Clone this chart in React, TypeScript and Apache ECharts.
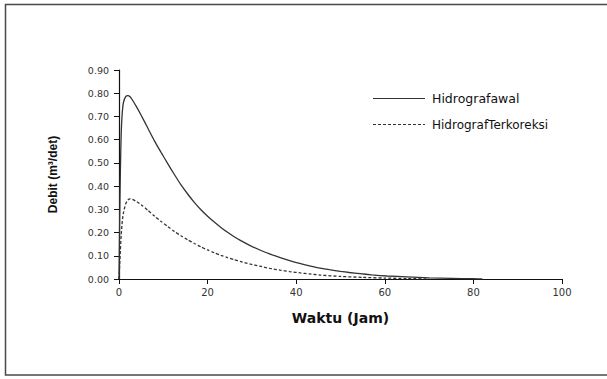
import React, { useEffect, useRef } from "react";
import * as echarts from "echarts";

const xTicks = [0, 20, 40, 60, 80, 100];
const seriesNames = ["Hidrografawal", "HidrografTerkoreksi"];

const tAwal = [0, 0.15, 0.3, 0.5, 0.75, 1, 1.5, 2, 2.5, 3, 4, 5, 6.5, 8, 9.5, 11, 12.5, 14, 15.5, 17, 18.5, 20, 21.5, 23, 24.5, 26, 27.5, 29.5, 31.8, 34, 36.4, 38.5, 41, 43, 45.4, 47.5, 50, 52, 54.4, 57, 60.5, 65, 70, 75, 80, 82];
const qAwal = [0, 0.25, 0.45, 0.63, 0.72, 0.76, 0.785, 0.79, 0.785, 0.772, 0.74, 0.705, 0.65, 0.595, 0.545, 0.497, 0.45, 0.405, 0.366, 0.33, 0.298, 0.27, 0.245, 0.222, 0.201, 0.182, 0.165, 0.145, 0.125, 0.108, 0.092, 0.079, 0.066, 0.057, 0.047, 0.04, 0.033, 0.028, 0.023, 0.018, 0.013, 0.009, 0.005, 0.003, 0.001, 0];

const tKoreksi = [0, 0.15, 0.3, 0.5, 0.75, 1, 1.5, 2, 2.5, 3, 4, 5, 6.5, 8, 9.5, 11, 12.5, 14, 15.5, 17, 18.5, 20, 21.5, 23, 24.5, 26, 27.5, 29.5, 31.8, 34, 36.4, 38.5, 41, 43, 45.4, 50, 55, 60, 65, 70];
const qKoreksi = [0, 0.06, 0.12, 0.19, 0.25, 0.285, 0.323, 0.34, 0.345, 0.343, 0.333, 0.32, 0.296, 0.271, 0.248, 0.226, 0.205, 0.186, 0.169, 0.153, 0.138, 0.125, 0.113, 0.102, 0.092, 0.083, 0.075, 0.065, 0.055, 0.046, 0.038, 0.032, 0.026, 0.022, 0.017, 0.011, 0.007, 0.004, 0.002, 0];

const toPairs = (xs: number[], ys: number[]) => xs.map((x, i) => [x, ys[i]]);

export default function App() {
  const ref = useRef<HTMLDivElement>(null);
  useEffect(() => {
    if (!ref.current) return;
    const chart = echarts.init(ref.current, null, { renderer: "svg" });
    const font = "Liberation Sans, Arial, sans-serif";
    const wide = "DejaVu Sans, sans-serif";
    chart.setOption({
      animation: false,
      backgroundColor: "#ffffff",
      textStyle: { fontFamily: font },
      grid: { left: 119, top: 70, width: 443, height: 209, containLabel: false },
      graphic: [
        {
          type: "rect",
          shape: { x: 5.5, y: 4.5, width: 640, height: 370.5 },
          style: { fill: "none", stroke: "#4a4a4a", lineWidth: 1.5 },
          silent: true,
        },
        {
          type: "line",
          shape: { x1: 373, y1: 98.5, x2: 425, y2: 98.5 },
          style: { stroke: "#333", lineWidth: 1.2 },
          silent: true,
        },
        {
          type: "text",
          x: 432,
          y: 98.5,
          style: { text: seriesNames[0], fill: "#111", font: `12.5px ${wide}`, textVerticalAlign: "middle", verticalAlign: "middle" },
          silent: true,
        },
        {
          type: "line",
          shape: { x1: 373, y1: 124.5, x2: 425, y2: 124.5 },
          style: { stroke: "#333", lineWidth: 1.2, lineDash: [3, 2] },
          silent: true,
        },
        {
          type: "text",
          x: 432,
          y: 124.5,
          style: { text: seriesNames[1], fill: "#111", font: `12px ${wide}`, textVerticalAlign: "middle", verticalAlign: "middle" },
          silent: true,
        },
      ],
      xAxis: {
        type: "value",
        min: 0,
        max: 100,
        interval: 20,
        name: "Waktu (Jam)",
        nameLocation: "middle",
        nameGap: 32,
        nameTextStyle: { fontFamily: wide, fontSize: 14, fontWeight: "bold", color: "#111" },
        axisLine: { lineStyle: { color: "#111", width: 1.2 } },
        axisTick: { show: true, length: 5, lineStyle: { color: "#111" } },
        axisLabel: { fontFamily: wide, fontSize: 10, color: "#333", margin: 8, formatter: (v: number) => (xTicks.includes(v) ? String(v) : "") },
        splitLine: { show: false },
      },
      yAxis: {
        type: "value",
        min: 0,
        max: 0.9,
        interval: 0.1,
        name: "Debit (m³/det)",
        nameLocation: "middle",
        nameRotate: 90,
        nameGap: 60,
        nameTextStyle: { fontFamily: font, fontSize: 12, fontWeight: "bold", color: "#111" },
        axisLine: { show: true, lineStyle: { color: "#111", width: 1.2 } },
        axisTick: { show: true, length: 5, lineStyle: { color: "#111" } },
        axisLabel: { fontFamily: wide, fontSize: 9.5, color: "#333", margin: 10, formatter: (v: number) => v.toFixed(2) },
        splitLine: { show: false },
      },
      series: [
        {
          name: seriesNames[0],
          type: "line",
          data: toPairs(tAwal, qAwal),
          smooth: 0.2,
          symbol: "none",
          lineStyle: { color: "#333", width: 1.3, type: "solid" },
          itemStyle: { color: "#333" },
        },
        {
          name: seriesNames[1],
          type: "line",
          data: toPairs(tKoreksi, qKoreksi),
          smooth: 0.2,
          symbol: "none",
          lineStyle: { color: "#333", width: 1.3, type: [3, 2] },
          itemStyle: { color: "#333" },
        },
      ],
    });
    return () => chart.dispose();
  }, []);
  return (
    <div
      ref={ref}
      style={{ position: "fixed", left: 0, top: 0, width: 607, height: 379 }}
    />
  );
}
